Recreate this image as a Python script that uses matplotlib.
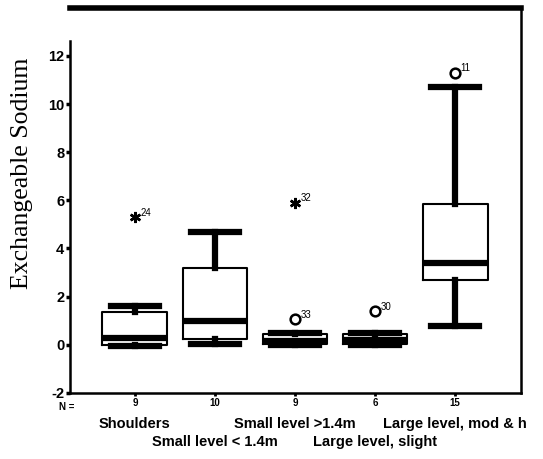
import matplotlib.pyplot as plt

categories = ["Shoulders", "Small level < 1.4m", "Small level >1.4m",
              "Large level, slight", "Large level, mod & h"]
n_counts = ["9", "10", "9", "6", "15"]
q1 = [0.0, 0.25, 0.05, 0.05, 2.7]
med = [0.3, 1.0, 0.15, 0.2, 3.4]
q3 = [1.35, 3.2, 0.45, 0.45, 5.85]
whislo = [-0.05, 0.05, 0.0, 0.0, 0.8]
whishi = [1.6, 4.7, 0.5, 0.5, 10.7]

out_box = [1, 3, 3, 4, 5]
out_val = [5.3, 5.9, 1.05, 1.4, 11.3]
out_lab = ["24", "32", "33", "30", "11"]
out_kind = ["extreme", "extreme", "outlier", "outlier", "outlier"]

yticks = [-2, 0, 2, 4, 6, 8, 10, 12]

fig = plt.figure(figsize=(5.43, 4.59), dpi=100)
ax = fig.add_axes([0.129, 0.144, 0.830, 0.839])

stats = []
for i in range(len(categories)):
    stats.append(dict(q1=q1[i], med=med[i], q3=q3[i],
                      whislo=whislo[i], whishi=whishi[i], fliers=[]))

positions = list(range(1, len(categories) + 1))
ax.bxp(stats, positions=positions, widths=0.81, showfliers=False,
       boxprops=dict(color="black", linewidth=1.5),
       medianprops=dict(color="black", linewidth=4.5, solid_capstyle="butt"),
       whiskerprops=dict(color="black", linewidth=4.5),
       capprops=dict(color="black", linewidth=4.5),
       capwidths=0.6)

for b, v, lab, kind in zip(out_box, out_val, out_lab, out_kind):
    if kind == "extreme":
        ax.plot(b, v, marker=(6, 2, 0), markersize=8, markeredgewidth=1.8,
                color="black")
    else:
        ax.plot(b, v, marker="o", markersize=7, markerfacecolor="white",
                markeredgecolor="black", markeredgewidth=1.8)
    ax.annotate(lab, (b, v), xytext=(4, 1), textcoords="offset points",
                fontsize=7, family="Liberation Sans")

ax.set_xlim(0.19, 5.82)
ax.set_ylim(-2, 14)
ax.set_yticks(yticks)
ax.set_yticklabels([str(t) for t in yticks], family="Liberation Sans",
                   fontweight="bold", fontsize=10.5)
ax.tick_params(axis="y", length=3, width=2.5, pad=1)

ax.set_xticks(positions)
ax.set_xticklabels(n_counts, family="Liberation Sans", fontsize=7,
                   fontweight="bold")
ax.tick_params(axis="x", length=2, width=2, pad=2)
ax.text(-0.008, -0.037, "N =", transform=ax.transAxes, fontsize=7,
        family="Liberation Sans", fontweight="bold", ha="center", va="center")

# category names alternate between two rows under the axis
for i, cat in enumerate(categories):
    ax.annotate(cat, (positions[i], 0), xycoords=("data", "axes fraction"),
                xytext=(0, -17 if i % 2 == 0 else -30.5),
                textcoords="offset points", fontsize=10.5,
                family="Liberation Sans", fontweight="bold",
                ha="center", va="top")

ax.set_ylabel("Exchangeable Sodium", family="Liberation Serif", fontsize=18.5)
ax.yaxis.set_label_coords(-0.083, 0.57)

for side in ["left", "bottom", "right"]:
    ax.spines[side].set_linewidth(1.8)
ax.spines["left"].set_bounds(-2, 12.6)
ax.spines["top"].set_linewidth(4)

fig.savefig("out.png", dpi=100)
